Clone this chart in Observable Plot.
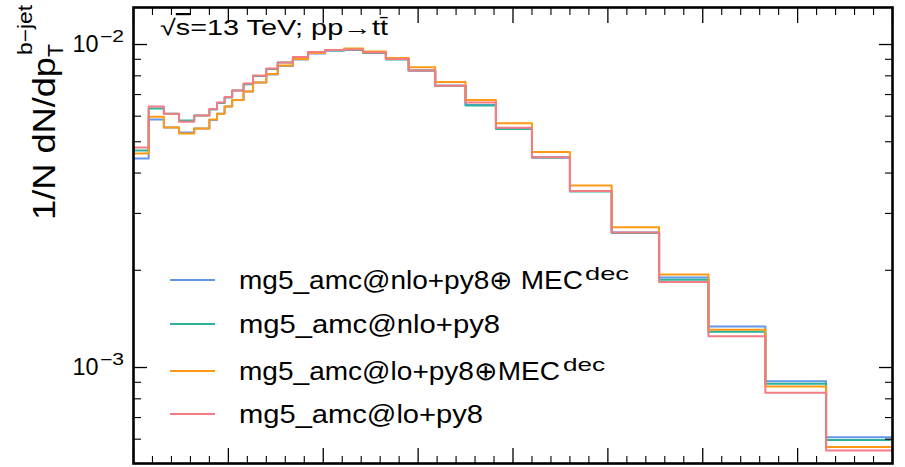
<!DOCTYPE html>
<html><head><meta charset="utf-8">
<script src="https://cdn.jsdelivr.net/npm/d3@7"></script>
<script src="https://cdn.jsdelivr.net/npm/@observablehq/plot@0.6"></script>
<style>html,body{margin:0;padding:0;background:#fff;}</style>
</head><body><div id="chart"></div>
<script>
// bin edges of p_T^{b-jet} (arbitrary units, axis labels not shown)
const binEdges = [0, 8, 16, 24, 32, 40, 44, 48, 52, 58, 63, 70, 76, 84, 92, 101, 111, 121, 133, 145, 159, 175, 191, 210, 230, 252, 277, 303, 333, 365, 400];

const seriesNames = ["mg5_amc@nlo+py8\u2295 MEC", "mg5_amc@nlo+py8", "mg5_amc@lo+py8\u2295MEC", "mg5_amc@lo+py8"];
const seriesSup = ["dec", "", "dec", ""];
const seriesColors = ["#6196e8", "#2db39b", "#ff9914", "#f47b84"];

const valsNloMEC = [0.00444, 0.00586, 0.00553, 0.00534, 0.00550, 0.00584, 0.00611, 0.00643, 0.00673, 0.00715, 0.00763, 0.00808, 0.00858, 0.00899, 0.00938, 0.00958, 0.00965, 0.00945, 0.00902, 0.00831, 0.00746, 0.00650, 0.00550, 0.00447, 0.00352, 0.00262, 0.00190, 0.00134, 0.000907, 0.000608];
const valsNlo    = [0.00470, 0.00634, 0.00611, 0.00582, 0.00603, 0.00629, 0.00659, 0.00685, 0.00720, 0.00754, 0.00799, 0.00840, 0.00880, 0.00912, 0.00945, 0.00958, 0.00962, 0.00941, 0.00899, 0.00831, 0.00746, 0.00647, 0.00548, 0.00447, 0.00351, 0.00261, 0.00187, 0.00129, 0.000890, 0.000597];
const valsLoMEC  = [0.00460, 0.00598, 0.00553, 0.00530, 0.00550, 0.00586, 0.00611, 0.00643, 0.00673, 0.00715, 0.00763, 0.00810, 0.00861, 0.00902, 0.00941, 0.00962, 0.00972, 0.00951, 0.00908, 0.00851, 0.00765, 0.00673, 0.00571, 0.00465, 0.00366, 0.00272, 0.00194, 0.00131, 0.000873, 0.000567];
const valsLo     = [0.00480, 0.00643, 0.00611, 0.00577, 0.00603, 0.00631, 0.00661, 0.00688, 0.00720, 0.00757, 0.00802, 0.00843, 0.00880, 0.00915, 0.00948, 0.00962, 0.00965, 0.00945, 0.00902, 0.00831, 0.00746, 0.00661, 0.00552, 0.00448, 0.00352, 0.00262, 0.00184, 0.00125, 0.000835, 0.000553];

const xMajorTicks = [0, 50, 100, 150, 200, 250, 300, 350, 400];
const xMinorTicks = [10, 20, 30, 40, 60, 70, 80, 90, 110, 120, 130, 140, 160, 170, 180, 190, 210, 220, 230, 240, 260, 270, 280, 290, 310, 320, 330, 340, 360, 370, 380, 390];
const yMajorTicks = [0.01, 0.001];
const yMinorTicks = [0.0006, 0.0007, 0.0008, 0.0009, 0.002, 0.003, 0.004, 0.005, 0.006, 0.007, 0.008, 0.009];
const yTickBase = ["10", "10"];
const yTickExp = ["\u22122", "\u22123"];

const allVals = [valsNloMEC, valsNlo, valsLoMEC, valsLo];
const stepData = allVals.map(vals => binEdges.map((x, i) => ({x, y: vals[Math.min(i, vals.length - 1)]})));

const noText = () => "";
const marks = [];
stepData.forEach((d, k) => marks.push(Plot.line(d, {x: "x", y: "y", curve: "step-after", stroke: seriesColors[k], strokeWidth: 2})));
for (const anchor of ["bottom", "top"]) {
  marks.push(Plot.axisX(xMajorTicks, {anchor, tickSize: -15, tickFormat: noText, label: null, strokeWidth: 1.3}));
  marks.push(Plot.axisX(xMinorTicks, {anchor, tickSize: -7, tickFormat: noText, label: null, strokeWidth: 1.1}));
}
for (const anchor of ["left", "right"]) {
  marks.push(Plot.axisY(yMajorTicks, {anchor, tickSize: -14, tickFormat: noText, label: null, strokeWidth: 1.3}));
  marks.push(Plot.axisY(yMinorTicks, {anchor, tickSize: -8, tickFormat: noText, label: null, strokeWidth: 1.1}));
}
marks.push(Plot.axisY(yMajorTicks, {anchor: "left", tickSize: 0, tickPadding: 35, label: null, fontSize: 23,
  tickFormat: d => yTickBase[yMajorTicks.indexOf(d)]}));
marks.push(Plot.frame({stroke: "black", strokeWidth: 2.6}));

const svg = Plot.plot({
  width: 905, height: 467,
  marginLeft: 133, marginRight: 13, marginTop: 7, marginBottom: 4,
  style: {fontFamily: "'Liberation Sans', Arial, sans-serif", background: "#fff", color: "#000"},
  x: {domain: [0, 400]},
  y: {type: "log", domain: [5.045e-4, 1.302e-2]},
  marks
});

const s = d3.select(svg);
const yScale = svg.scale("y");
function addText(parent, x, y, str, size, len) {
  const t = parent.append("text").attr("x", x).attr("y", y).attr("text-anchor", "start")
    .attr("font-size", size).attr("fill", "#000").text(str);
  if (len) t.attr("textLength", len).attr("lengthAdjust", "spacingAndGlyphs");
  return t;
}

// y tick labels: stretch base, add exponent
s.selectAll('g[aria-label="y-axis tick label"] text').each(function () {
  if (this.textContent === "10") d3.select(this).attr("textLength", 26).attr("lengthAdjust", "spacingAndGlyphs");
});
yMajorTicks.forEach((d, i) => {
  addText(s, 100, yScale.apply(d) - 2, yTickExp[i], 16, 24);
});

// y-axis title
const g = s.append("g").attr("transform", "translate(55,220) rotate(-90)");
addText(g, 0, 0, "1/N dN/dp", 31, 163);
addText(g, 163, 8, "T", 22, 13);
addText(g, 165, -23, "b\u2212jet", 20, 50);

// energy label
const el = s.append("text").attr("x", 160).attr("y", 35).attr("text-anchor", "start").attr("font-size", 22)
  .attr("fill", "#000").attr("textLength", 228).attr("lengthAdjust", "spacingAndGlyphs");
el.append("tspan").text("\u221A");
el.append("tspan").attr("text-decoration", "overline").text("s");
el.append("tspan").text("=13 TeV; pp\u2192tt\u0304");

// legend
const legendY = [280, 324, 371, 414];
const legendLen = [344, 261, 321, 244];
const legendSupX = [585, null, 563, null];
const legendSupLen = [44, 0, 42, 0];
seriesNames.forEach((name, k) => {
  const y = legendY[k];
  s.append("line").attr("x1", 170).attr("x2", 215).attr("y1", y).attr("y2", y)
    .attr("stroke", seriesColors[k]).attr("stroke-width", 2);
  addText(s, 239, y + 9, name, 26, legendLen[k]);
  if (seriesSup[k]) addText(s, legendSupX[k], y, seriesSup[k], 19, legendSupLen[k]);
});

document.getElementById("chart").appendChild(svg);
</script></body></html>
